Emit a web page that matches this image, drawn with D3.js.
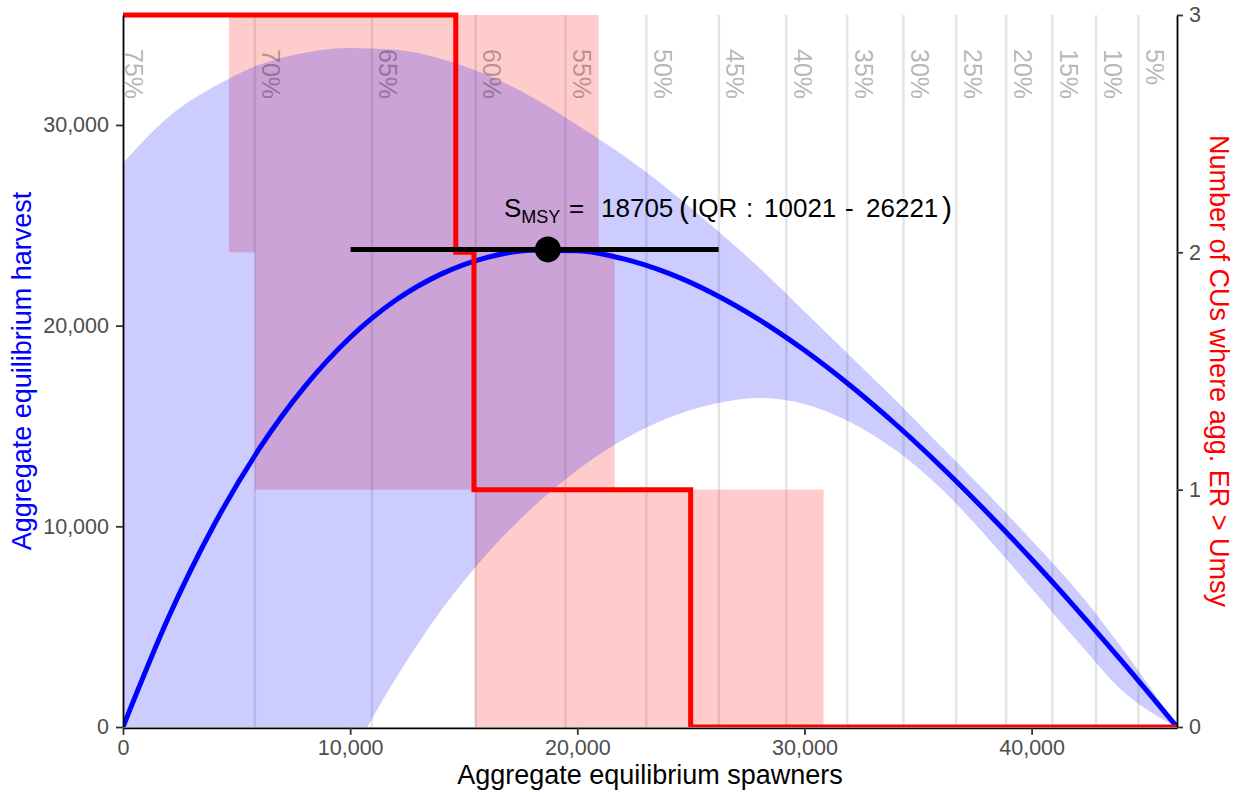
<!DOCTYPE html>
<html>
<head>
<meta charset="utf-8">
<script src="https://cdn.jsdelivr.net/npm/d3@7"></script>
<style>
  body { margin: 0; background: #fff; }
  svg { display: block; }
  text { font-family: "Liberation Sans", Arial, Helvetica, sans-serif; }
</style>
</head>
<body>
<svg id="chart" width="1242" height="792"></svg>
<script>
// Aggregate equilibrium spawners (x) and equilibrium harvest (left y)
const spawners      = [0, 2000, 4000, 6000, 8000, 10000, 12000, 14000, 16000, 18000, 20000, 22000,
                       24000, 26000, 28000, 30000, 32000, 34000, 36000, 38000, 40000, 42000, 44000, 46400];
const harvest       = [0, 5454, 10052, 13866, 16960, 19410, 21264, 22568, 23392, 23760, 23732, 23338,
                       22615, 21593, 20303, 18774, 17030, 15099, 12996, 10739, 8356, 5851, 3243, 0];
const harvestUpper  = [28100, 30400, 31900, 33000, 33600, 33830, 33750, 33300, 32500, 31400, 30000, 28500,
                       26800, 24900, 22900, 20700, 18500, 16300, 14000, 11700, 9300, 6800, 3900, 0];
const harvestLower  = [-27500, -21500, -16000, -10800, -6000, -1560, 2400, 5800, 8600, 10900, 12800, 14300,
                       15400, 16100, 16400, 16100, 15200, 13800, 11900, 9500, 6900, 4300, 1800, 0];

// Aggregate exploitation-rate reference lines
const erLabels   = ["75%", "70%", "65%", "60%", "55%", "50%", "45%", "40%", "35%", "30%", "25%", "20%", "15%", "10%", "5%"];
const erSpawners = [-260, 5807, 10955, 15530, 19476, 23040, 26234, 29199, 31883, 34360, 36678, 38878, 40915, 42837, 44699];

// Number of CUs where aggregate ER > Umsy (right y), as a step function
const stepSpawners = [0, 14650, 15450, 24990, 46400];
const stepCounts   = [3, 2, 1, 0, 0];

// Uncertainty bands of each step level
const bandLevel = [3, 2, 1];
const bandLow   = [4663, 5807, 15486];
const bandHigh  = [20941, 21645, 30840];

// Smsy and its interquartile range
const smsy = 18705;
const smsyLow = 10021;
const smsyHigh = 26221;
const hmsy = 23800;

const xTicks  = [0, 10000, 20000, 30000, 40000];
const yTicks  = [0, 10000, 20000, 30000];
const y2Ticks = [0, 1, 2, 3];

const xMax = 46400, yMax = 35480, y2Max = 3;
const L = 123, R = 1177, T = 15, B = 727;

const svg = d3.select("#chart");
const x  = d3.scaleLinear().domain([0, xMax]).range([L, R]);
const y  = d3.scaleLinear().domain([0, yMax]).range([B, T]);
const y2 = d3.scaleLinear().domain([0, y2Max]).range([B, T]);

const defs = svg.append("defs");
defs.append("clipPath").attr("id", "panel")
  .append("rect").attr("x", L).attr("y", T).attr("width", R - L).attr("height", B - T);
defs.append("clipPath").attr("id", "stepclip")
  .append("rect").attr("x", 0).attr("y", 0).attr("width", 1242).attr("height", B);

const panel = svg.append("g").attr("clip-path", "url(#panel)");

// ER reference lines and labels
panel.selectAll("line.er").data(erSpawners).join("line")
  .attr("class", "er")
  .attr("x1", d => x(d)).attr("x2", d => x(d))
  .attr("y1", T).attr("y2", B)
  .attr("stroke", "#000").attr("stroke-opacity", 0.1).attr("stroke-width", 2.5);

svg.selectAll("text.er").data(erLabels).join("text")
  .attr("class", "er")
  .attr("transform", (d, i) => `translate(${x(erSpawners[i]) + 7.5},49) rotate(90)`)
  .attr("font-size", 25)
  .attr("fill", "#000").attr("fill-opacity", 0.3)
  .text(d => d);

// Step uncertainty bands
panel.selectAll("rect.band").data(bandLevel).join("rect")
  .attr("class", "band")
  .attr("x", (d, i) => x(bandLow[i]))
  .attr("width", (d, i) => x(bandHigh[i]) - x(bandLow[i]))
  .attr("y", d => y2(d))
  .attr("height", d => y2(d - 1) - y2(d))
  .attr("fill", "#ff0000").attr("fill-opacity", 0.2);

// Step line
const stepPts = stepSpawners.map((s, i) => [s, stepCounts[i]]);
svg.append("path")
  .datum(stepPts)
  .attr("clip-path", "url(#stepclip)")
  .attr("d", d3.line().x(d => x(d[0])).y(d => y2(d[1])).curve(d3.curveStepAfter))
  .attr("fill", "none").attr("stroke", "#ff0000").attr("stroke-width", 5)
  .attr("stroke-linejoin", "miter");

// Harvest ribbon
const ribbon = spawners.map((s, i) => ({ s, lo: harvestLower[i], hi: harvestUpper[i] }));
panel.append("path")
  .datum(ribbon)
  .attr("d", d3.area().x(d => x(d.s)).y0(d => y(d.lo)).y1(d => y(d.hi)).curve(d3.curveMonotoneX))
  .attr("fill", "#0000ff").attr("fill-opacity", 0.2);

// Harvest curve
const curvePts = spawners.map((s, i) => [s, harvest[i]]);
panel.append("path")
  .datum(curvePts)
  .attr("d", d3.line().x(d => x(d[0])).y(d => y(d[1])).curve(d3.curveMonotoneX))
  .attr("fill", "none").attr("stroke", "#0000ff").attr("stroke-width", 5);

// Smsy interval and point
svg.append("line")
  .attr("x1", x(smsyLow)).attr("x2", x(smsyHigh))
  .attr("y1", y(hmsy)).attr("y2", y(hmsy))
  .attr("stroke", "#000").attr("stroke-width", 5);
svg.append("circle")
  .attr("cx", x(smsy)).attr("cy", y(hmsy)).attr("r", 13)
  .attr("fill", "#000");

// Annotation
const ann = svg.append("text").attr("y", 217).attr("font-size", 26).attr("fill", "#000");
ann.append("tspan").attr("x", 504).text("S");
ann.append("tspan").attr("font-size", 18).attr("dy", 6).text("MSY");
ann.append("tspan").attr("x", 569).attr("dy", -6).text("=");
ann.append("tspan").attr("x", 601).text(String(smsy));
ann.append("tspan").attr("x", 679).attr("font-size", 30).attr("font-weight", 300).attr("dy", 1).text("(");
ann.append("tspan").attr("x", 691).attr("dy", -1).text("IQR");
ann.append("tspan").attr("x", 746).text(":");
ann.append("tspan").attr("x", 764).text(String(smsyLow));
ann.append("tspan").attr("x", 845).text("-");
ann.append("tspan").attr("x", 866).text(String(smsyHigh));
ann.append("tspan").attr("x", 942).attr("font-size", 30).attr("dy", 1).text(")");

// Axes
function styleAxis(g) {
  g.select(".domain").attr("stroke", "#000").attr("stroke-width", 1.8);
  g.selectAll(".tick line").attr("stroke", "#333").attr("stroke-width", 1.8);
  g.selectAll(".tick text").attr("fill", "#4d4d4d").attr("font-size", 21.5)
    .attr("font-family", "'Liberation Sans', Arial, sans-serif");
}

svg.append("g").attr("transform", `translate(0,${B + 0.8})`)
  .call(d3.axisBottom(x).tickValues(xTicks).tickFormat(d3.format(",")).tickSize(7).tickPadding(5).tickSizeOuter(0))
  .call(styleAxis);

svg.append("g").attr("transform", `translate(${L},0)`)
  .call(d3.axisLeft(y).tickValues(yTicks).tickFormat(d3.format(",")).tickSize(7).tickPadding(7).tickSizeOuter(0))
  .call(styleAxis);

svg.append("g").attr("transform", `translate(${R},0)`)
  .call(d3.axisRight(y2).tickValues(y2Ticks).tickFormat(d3.format("d")).tickSize(6).tickPadding(6).tickSizeOuter(0))
  .call(styleAxis);

// Axis titles
svg.append("text")
  .attr("x", (L + R) / 2).attr("y", 784)
  .attr("text-anchor", "middle").attr("font-size", 27).attr("fill", "#000")
  .text("Aggregate equilibrium spawners");

svg.append("text")
  .attr("transform", `translate(31,${(T + B) / 2}) rotate(-90)`)
  .attr("text-anchor", "middle").attr("font-size", 27).attr("fill", "#0000ff")
  .text("Aggregate equilibrium harvest");

svg.append("text")
  .attr("transform", `translate(1210,${(T + B) / 2}) rotate(90)`)
  .attr("text-anchor", "middle").attr("font-size", 27).attr("fill", "#ff0000")
  .text("Number of CUs where agg. ER > Umsy");
</script>
</body>
</html>
